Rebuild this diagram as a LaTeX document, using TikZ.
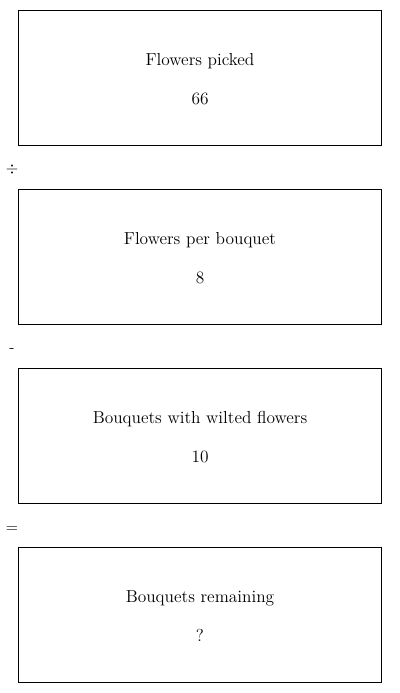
\documentclass[tikz,border=0pt]{standalone}
\begin{document}
\begin{tikzpicture}[x=0.75pt,y=-0.75pt,
  box/.style={draw=black,line width=0.75pt,minimum width=363*0.75pt,minimum height=135*0.75pt,inner sep=0pt},
  lbl/.style={font=\fontsize{13}{15}\selectfont,anchor=base},
  op/.style={font=\fontsize{12}{14}\selectfont}]
\useasboundingbox (0,0) rectangle (400,693);
\node[box] (b1) at (200,77.5) {};
\node[box] (b2) at (200,256.5) {};
\node[box] (b3) at (200,435.5) {};
\node[box] (b4) at (200,614.5) {};
\node[lbl] (t1) at (200,65) {Flowers picked};
\node[lbl] (n1) at (200,104) {66};
\node[lbl] (t2) at (200,244) {Flowers per bouquet};
\node[lbl] (n2) at (200,283) {8};
\node[lbl] (t3) at (200,423) {Bouquets with wilted flowers};
\node[lbl] (n3) at (200,462) {10};
\node[lbl] (t4) at (200,602) {Bouquets remaining};
\node[lbl] (n4) at (200,641) {?};
\node[op] (o1) at (12,169) {$\div$};
\node[op] (o2) at (12,351) {-};
\node[op] (o3) at (12,530) {=};
\end{tikzpicture}
\end{document}
